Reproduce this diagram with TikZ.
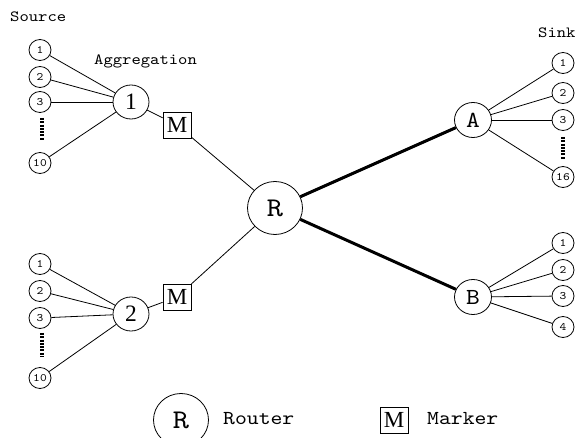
\documentclass[tikz,border=0pt]{standalone}
\usepackage{fontspec}
\setmainfont{Liberation Serif}
\newfontfamily\cour{lmmono10-regular.otf}[FakeStretch=1.14]
\usetikzlibrary{shapes.geometric}
\tikzset{
  small/.style={ellipse,draw,line width=0.8pt,inner sep=0pt,minimum width=22pt,minimum height=21pt,font=\cour\fontsize{11.3}{11.3}\selectfont},
  agg/.style={ellipse,draw,line width=0.8pt,inner sep=0pt,minimum width=36pt,minimum height=34pt,font=\fontsize{23.5}{23.5}\selectfont},
  router/.style={ellipse,draw,line width=0.8pt,inner sep=0pt,minimum width=55pt,minimum height=53pt,font=\cour\fontsize{27}{27}\selectfont},
  hub/.style={ellipse,draw,line width=0.8pt,inner sep=0pt,minimum width=37pt,minimum height=35pt,font=\cour\fontsize{23}{23}\selectfont},
  marker/.style={rectangle,draw,line width=0.8pt,inner sep=0pt,minimum width=28pt,minimum height=26pt,font=\fontsize{23}{23}\selectfont},
  lbl/.style={inner sep=0pt,font=\cour\fontsize{15.6}{15.6}\selectfont},
  leg/.style={inner sep=0pt,font=\cour\fontsize{19.8}{19.8}\selectfont},
  thin/.style={line width=0.8pt},
  thickline/.style={line width=3pt},
  dots/.style={line width=3.2pt,dash pattern=on 2pt off 1.3pt}
}
\begin{document}
\begin{tikzpicture}[x=1pt,y=-1pt]
\clip (0,0) rectangle (576,438);
\useasboundingbox (0,0) rectangle (576,438);
% labels
\node[lbl,anchor=west] (srclbl) at (10,17) {Source};
\node[lbl,anchor=west] (agglbl) at (94,61) {Aggregation};
\node[lbl,anchor=west] (sinklbl) at (538,33) {Sink};
% aggregation 1
\node[agg] (g1) at (131,102) {1};
\node[small] (s11) at (40,50) {1};
\node[small] (s12) at (40,77) {2};
\node[small] (s13) at (40,102) {3};
\node[small] (s110) at (40,163) {10};
\coordinate (d1a) at (42,118);
\coordinate (d1b) at (42,141);
\draw[dots] (d1a) -- (d1b);
\foreach \s in {s11,s12,s13,s110} \draw[thin] (\s) -- (g1);
% aggregation 2
\node[agg] (g2) at (131,314) {2};
\node[small] (s21) at (40,264) {1};
\node[small] (s22) at (40,291) {2};
\node[small] (s23) at (40,318) {3};
\node[small] (s210) at (40,378) {10};
\coordinate (d2a) at (42,333);
\coordinate (d2b) at (42,357);
\draw[dots] (d2a) -- (d2b);
\foreach \s in {s21,s22,s23,s210} \draw[thin] (\s) -- (g2);
% markers
\node[marker] (m1) at (177,125) {M};
\node[marker] (m2) at (177,297) {M};
% router
\node[router] (r) at (275,208) {R};
\draw[thin] (g1) -- (m1);
\draw[thin] (m1) -- (r);
\draw[thin] (g2) -- (m2);
\draw[thin] (m2) -- (r);
% hubs
\node[hub] (a) at (473,120) {A};
\node[hub] (b) at (473,297) {B};
\draw[thickline] (r) -- (a);
\draw[thickline] (r) -- (b);
% sinks A
\node[small] (a1) at (563,63) {1};
\node[small] (a2) at (563,93) {2};
\node[small] (a3) at (563,120) {3};
\node[small] (a16) at (563,177) {16};
\coordinate (d3a) at (563,137);
\coordinate (d3b) at (563,160);
\draw[dots] (d3a) -- (d3b);
\foreach \s in {a1,a2,a3,a16} \draw[thin] (a) -- (\s);
% sinks B
\node[small] (b1) at (563,243) {1};
\node[small] (b2) at (563,270) {2};
\node[small] (b3) at (563,296) {3};
\node[small] (b4) at (563,327) {4};
\foreach \s in {b1,b2,b3,b4} \draw[thin] (b) -- (\s);
% legend
\node[router] (lr) at (181,420) {R};
\node[leg,anchor=west] (lrt) at (223,419) {Router};
\node[marker] (lm) at (394,420) {M};
\node[leg,anchor=west] (lmt) at (427,419) {Marker};
\end{tikzpicture}
\end{document}
